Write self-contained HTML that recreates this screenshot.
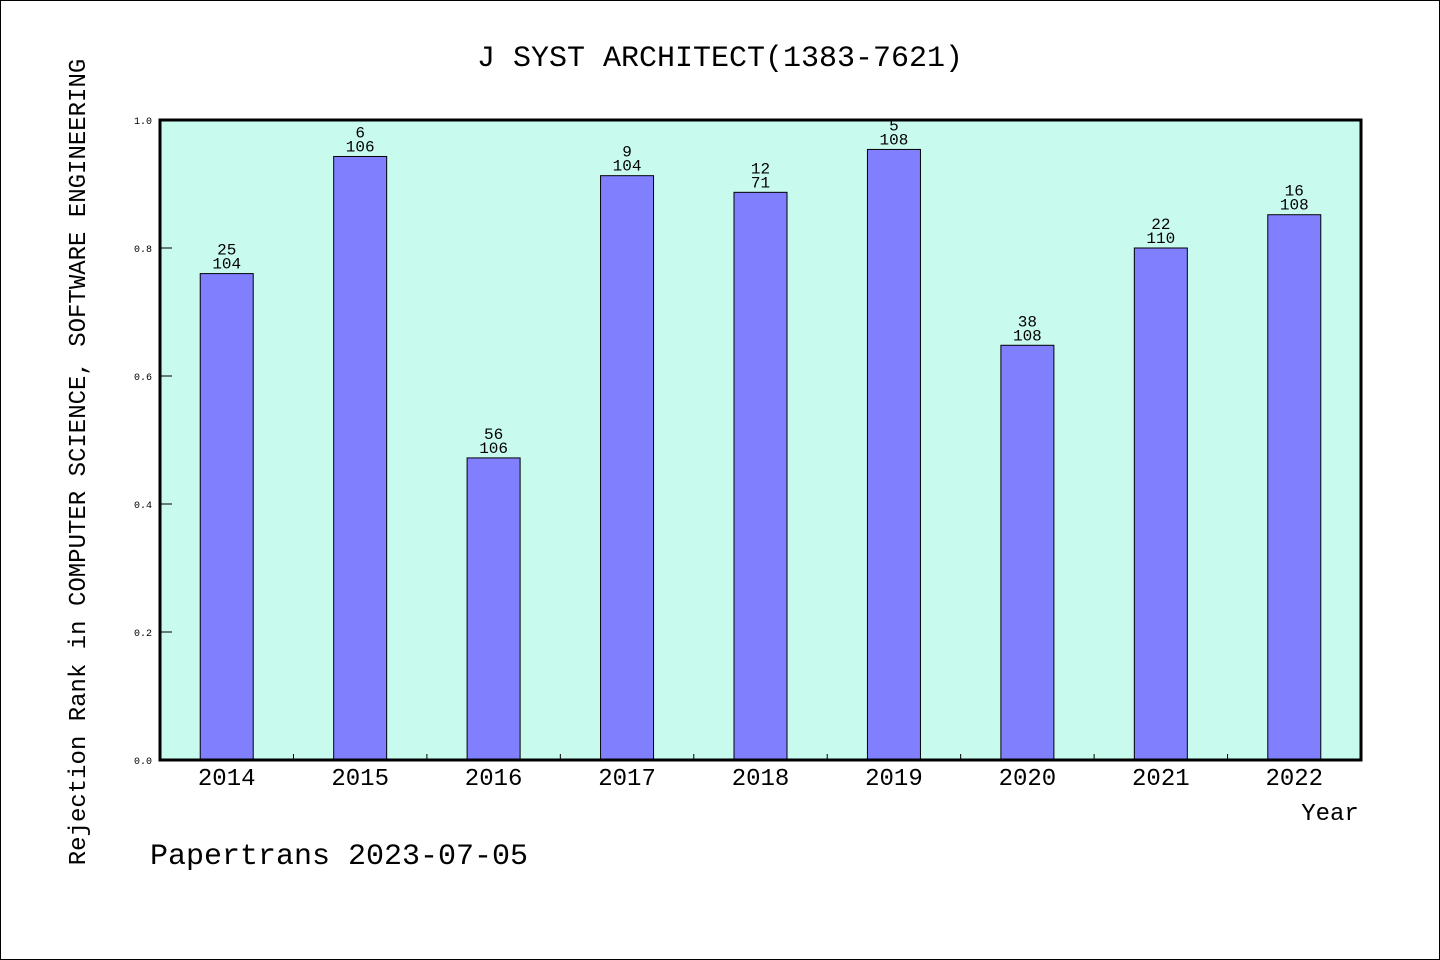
<!DOCTYPE html>
<html><head><meta charset="utf-8"><style>
html,body{margin:0;padding:0;background:#fff}
svg{display:block;font-family:"WenQuanYi Zen Hei","Liberation Mono",monospace}
</style></head><body>
<svg id="chart" width="1440" height="960" viewBox="0 0 1440 960">
<rect x="0.5" y="0.5" width="1439" height="959" fill="#fff" stroke="#000"/>
<text x="720" y="66" font-size="30" text-anchor="middle">J SYST ARCHITECT(1383-7621)</text>
<rect x="160" y="120" width="1201" height="640" fill="#c8faee"/>
<g id="bars"></g>
<g id="yaxis"></g>
<g id="xaxis"></g>
<rect x="160" y="120" width="1201" height="640" fill="none" stroke="#000" stroke-width="3"/>
<text x="1330" y="820" font-size="24" text-anchor="middle">Year</text>
<text transform="translate(85,462) rotate(-90)" font-size="24" text-anchor="middle">Rejection Rank in COMPUTER SCIENCE, SOFTWARE ENGINEERING</text>
<text x="150" y="864" font-size="30">Papertrans 2023-07-05</text>
</svg>
<script>
const categories = ["2014","2015","2016","2017","2018","2019","2020","2021","2022"];
const values = [0.760, 0.943, 0.472, 0.913, 0.887, 0.954, 0.648, 0.800, 0.852];
const ranks = ["25","6","56","9","12","5","38","22","16"];
const totals = ["104","106","106","104","71","108","108","110","108"];
const yTicks = [0.0, 0.2, 0.4, 0.6, 0.8, 1.0];
const yTickLabels = ["0.0","0.2","0.4","0.6","0.8","1.0"];

const NS = "http://www.w3.org/2000/svg";
const X0 = 160, X1 = 1361, Y0 = 760, Y1 = 120;
const step = (X1 - X0) / categories.length;
const xc = i => X0 + step * (i + 0.5);
const y = v => Y0 - (v - 0) / (1 - 0) * (Y0 - Y1);
function mk(tag, attrs, parent, text) {
  const e = document.createElementNS(NS, tag);
  for (const k in attrs) e.setAttribute(k, attrs[k]);
  if (text !== undefined) e.textContent = text;
  parent.appendChild(e);
  return e;
}
const gb = document.getElementById("bars");
const gy = document.getElementById("yaxis");
const gx = document.getElementById("xaxis");
const bw = 53;
categories.forEach((c, i) => {
  const top = y(values[i]);
  const r = mk("rect", {x: xc(i) - bw / 2, y: top, width: bw, height: Y0 - top, fill: "#8080ff", stroke: "#000", "stroke-width": 1}, gb);
  
  
  const t1 = mk("text", {x: xc(i), y: top - 19, "font-size": 16, "text-anchor": "middle"}, gb, ranks[i]);
  
  
  const t2 = mk("text", {x: xc(i), y: top - 5, "font-size": 16, "text-anchor": "middle"}, gb, totals[i]);
  
  
  const xl = mk("text", {x: xc(i), y: 785, "font-size": 24, "text-anchor": "middle"}, gx, c);
  
  
  if (i > 0) {
    const tk = mk("line", {x1: X0 + step * i, x2: X0 + step * i, y1: Y0, y2: Y0 - 6, stroke: "#000", "stroke-width": 1}, gx);
    
    
  }
});
yTicks.forEach((v, i) => {
  const ln = mk("line", {x1: X0, x2: X0 + 12, y1: y(v), y2: y(v), stroke: "#000", "stroke-width": 1}, gy);
  
  
  const tl = mk("text", {x: 152, y: y(v) + 4, "font-size": 10, "text-anchor": "end"}, gy, yTickLabels[i]);
  
  
});
</script>
</body></html>
